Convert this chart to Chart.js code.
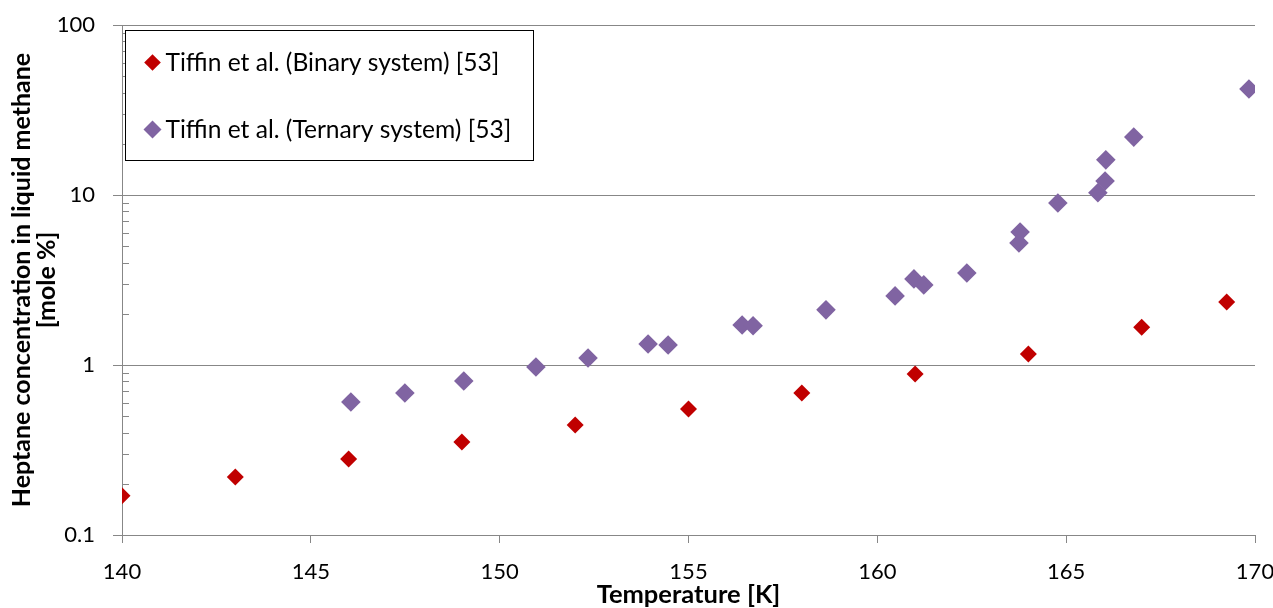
<!DOCTYPE html>
<html>
<head>
<meta charset="utf-8">
<script src="https://cdn.jsdelivr.net/npm/chart.js@4.4.0/dist/chart.umd.min.js"></script>
<style>
  html, body { margin: 0; padding: 0; background: #fff; }
  #wrap { width: 1273px; height: 608px; }
</style>
</head>
<body>
<div id="wrap"><canvas id="grafico" width="1273" height="608"></canvas></div>
<script>
// Tiffin et al. [53] - heptane solubility in liquid methane
const binaryT = [140, 143, 146, 149, 152, 155, 158, 161, 164, 167, 169.25]
const binaryX = [0.170, 0.219, 0.280, 0.353, 0.444, 0.551, 0.684, 0.885, 1.16, 1.67, 2.35]

const ternaryT = [146.06, 147.49, 149.05, 150.96, 152.34, 153.93, 154.46, 156.42, 156.71, 158.64,
  160.47, 160.97, 161.23, 162.37, 163.78, 163.75, 164.78, 165.84, 166.03, 166.05, 166.79, 169.84]
const ternaryX = [0.606, 0.684, 0.805, 0.973, 1.10, 1.33, 1.31, 1.72, 1.70, 2.11,
  2.55, 3.21, 2.96, 3.48, 6.06, 5.22, 8.97, 10.3, 12.1, 16.1, 21.9, 42.0]

const yTicks = [0.1, 1, 10, 100]
const yMinor = [2, 3, 4, 5, 6, 7, 8, 9]
const legendLabels = ['Tiffin et al. (Binary system) [53]', 'Tiffin et al. (Ternary system) [53]']

const RED = '#C00000'
const PURPLE = '#8064A2'
const GRID = '#878787'
const FONTE = 'Lato, "Open Sans", sans-serif'

function pontos(xs, ys) {
    return xs.map((x, i) => ({ x: x, y: ys[i] }))
}

function losango(ctx, x, y, r, cor) {
    ctx.beginPath()
    ctx.moveTo(x - r, y)
    ctx.lineTo(x, y - r)
    ctx.lineTo(x + r, y)
    ctx.lineTo(x, y + r)
    ctx.closePath()
    ctx.fillStyle = cor
    ctx.fill()
}

// small inside ticks between the decades of the log axis
const minorTicks = {
    id: 'minorTicks',
    afterDraw(chart) {
        const ctx = chart.ctx
        const y = chart.scales.y
        ctx.save()
        ctx.strokeStyle = GRID
        ctx.lineWidth = 1
        yTicks.slice(0, -1).forEach(dec => {
            yMinor.forEach(m => {
                const py = Math.round(y.getPixelForValue(dec * m)) + 0.5
                ctx.beginPath()
                ctx.moveTo(y.right, py)
                ctx.lineTo(y.right + 7, py)
                ctx.stroke()
            })
        })
        ctx.restore()
    }
}

// boxed legend inside the plot area
const caixaLegenda = {
    id: 'caixaLegenda',
    afterDraw(chart) {
        const ctx = chart.ctx
        const area = chart.chartArea
        const x0 = area.left + 3.5
        const y0 = area.top + 5.5
        const w = 408
        const h = 130
        ctx.save()
        ctx.fillStyle = '#fff'
        ctx.fillRect(x0, y0, w, h)
        ctx.strokeStyle = '#000'
        ctx.lineWidth = 1
        ctx.strokeRect(x0, y0, w, h)

        const cores = [RED, PURPLE]
        const raios = [8.3, 9]
        ctx.font = '24.6px ' + FONTE
        ctx.textBaseline = 'middle'
        legendLabels.forEach((txt, i) => {
            const ly = y0 + 32 + i * 67
            losango(ctx, x0 + 27, ly, raios[i], cores[i])
            ctx.fillStyle = '#000'
            ctx.fillText(txt, x0 + 40, ly + 1)
        })
        ctx.restore()
    }
}

const ctx = document.getElementById('grafico').getContext('2d')

new Chart(ctx, {
    type: 'scatter',
    data: {
        datasets: [{
            label: legendLabels[0],
            data: pontos(binaryT, binaryX),
            pointStyle: 'rectRot',
            pointRadius: 8.5,
            pointHoverRadius: 8.5,
            backgroundColor: RED,
            borderColor: RED,
            borderWidth: 0
        }, {
            label: legendLabels[1],
            data: pontos(ternaryT, ternaryX),
            pointStyle: 'rectRot',
            pointRadius: 9.8,
            pointHoverRadius: 9.8,
            backgroundColor: PURPLE,
            borderColor: PURPLE,
            borderWidth: 0
        }]
    },
    options: {
        responsive: false,
        animation: false,
        layout: { padding: { top: 25, right: 18, left: 0, bottom: 0 } },
        plugins: {
            legend: { display: false },
            tooltip: { enabled: false }
        },
        scales: {
            x: {
                type: 'linear',
                min: 140,
                max: 170,
                ticks: {
                    stepSize: 5,
                    color: '#000',
                    font: { family: FONTE, size: 22 },
                    padding: 16
                },
                grid: {
                    drawOnChartArea: false,
                    color: GRID,
                    tickLength: 8
                },
                border: { color: GRID },
                title: {
                    display: true,
                    text: 'Temperature [K]',
                    color: '#000',
                    font: { family: FONTE, size: 25.5, weight: 'bold', lineHeight: 1 },
                    padding: { top: 0, bottom: 0 }
                },
                afterFit(scale) {
                    scale.height = 73
                    scale.paddingLeft = 0
                    scale.paddingRight = 0
                }
            },
            y: {
                type: 'logarithmic',
                min: 0.1,
                max: 100,
                afterBuildTicks(scale) {
                    scale.ticks = yTicks.map(v => ({ value: v }))
                },
                ticks: {
                    color: '#000',
                    font: { family: FONTE, size: 22 },
                    padding: 18,
                    callback: v => String(v)
                },
                grid: {
                    color: GRID,
                    tickLength: 9
                },
                border: { color: GRID },
                title: {
                    display: true,
                    text: ['Heptane concentration in liquid methane', '[mole %]'],
                    color: '#000',
                    font: { family: FONTE, size: 25, weight: 'bold', lineHeight: 0.98 },
                    padding: { top: 10, bottom: 0 }
                },
                afterFit(scale) {
                    scale.width = 122
                    scale.paddingTop = 0
                    scale.paddingBottom = 0
                }
            }
        }
    },
    plugins: [minorTicks, caixaLegenda]
})
</script>
</body>
</html>
